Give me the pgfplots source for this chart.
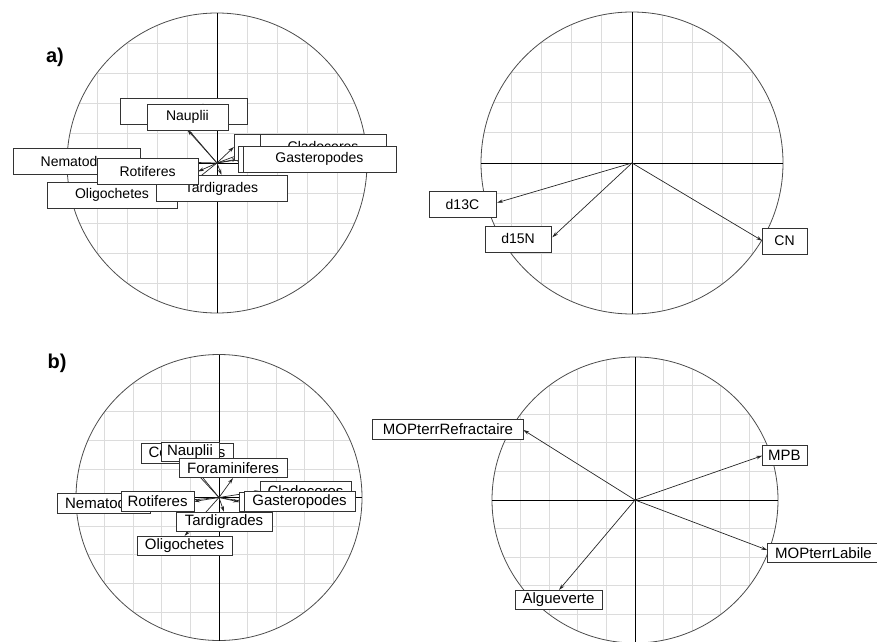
\documentclass[border=0pt]{standalone}
\usepackage{pgfplots}
\pgfplotsset{compat=1.18}
\usepackage{fontspec}
\setmainfont{Liberation Sans}
\usetikzlibrary{arrows.meta}

\definecolor{gridc}{HTML}{DCDCDC}

% correlation circle: light grid clipped to the circle, the circle, the two axes
\newcommand{\corcircle}[1]{%
  \addplot[gridc, line width=0.7pt, unbounded coords=jump] coordinates {
    (-0.8,-0.6) (-0.8,0.6) (nan,nan) (-0.6,-0.8) (-0.6,0.8) (nan,nan)
    (-0.4,-0.9165) (-0.4,0.9165) (nan,nan) (-0.2,-0.9798) (-0.2,0.9798) (nan,nan)
    (0.2,-0.9798) (0.2,0.9798) (nan,nan) (0.4,-0.9165) (0.4,0.9165) (nan,nan)
    (0.6,-0.8) (0.6,0.8) (nan,nan) (0.8,-0.6) (0.8,0.6) (nan,nan)
    (-0.6,-0.8) (0.6,-0.8) (nan,nan) (-0.8,-0.6) (0.8,-0.6) (nan,nan)
    (-0.9165,-0.4) (0.9165,-0.4) (nan,nan) (-0.9798,-0.2) (0.9798,-0.2) (nan,nan)
    (-0.9798,0.2) (0.9798,0.2) (nan,nan) (-0.9165,0.4) (0.9165,0.4) (nan,nan)
    (-0.8,0.6) (0.8,0.6) (nan,nan) (-0.6,0.8) (0.6,0.8)};
  \draw[black!70, line width=0.8pt] (axis cs:0,0) circle[radius=#1pt];
  \addplot[black, line width=0.7pt] coordinates {(-1,0) (1,0)};
  \addplot[black, line width=0.7pt] coordinates {(0,-1) (0,1)};
}

\pgfplotsset{
  panel/.style={anchor=center, scale only axis, hide axis, clip=false,
    xmin=-1, xmax=1, ymin=-1, ymax=1},
  arr/.style={black!85, line width=0.7pt, -{Stealth[length=6pt,width=3.5pt]},
    quiver={u=\thisrow{u}, v=\thisrow{v}}},
}
\tikzset{
  lbl/.style={draw=black!80, fill=white, line width=0.8pt, inner sep=0pt,
    anchor=center, text=black},
  la/.style={lbl, minimum height=26pt, font=\fontsize{14}{14}\selectfont},
  lb/.style={lbl, minimum height=19.5pt, font=\fontsize{15}{15}\selectfont},
}

\begin{document}
\begin{tikzpicture}
\useasboundingbox (0,0) rectangle (877pt,641pt);
\clip (0,0) rectangle (877pt,641pt);

% ---------- a) left : taxa ----------
\begin{axis}[panel, at={(217pt,478pt)}, width=300pt, height=300pt]
\corcircle{150}
\addplot[arr] table {
x y u v
0 0 -0.223 0.26
0 0 -0.197 0.22
0 0 0.113 0.107
0 0 0.287 0.107
0 0 0.14 0.027
0 0 0.173 0.027
0 0 -0.513 0.013
0 0 -0.267 -0.213
0 0 0.03 -0.08
0 0 -0.127 -0.057
};
\node[la, minimum width=127pt] at (axis cs:-0.223,0.347) {Copepodes};
\node[la, minimum width=81pt] at (axis cs:-0.197,0.307) {Nauplii};
\node[la, minimum width=126pt] at (axis cs:0.533,0.107) {};
\node[la, minimum width=126pt] at (axis cs:0.707,0.107) {Cladoceres};
\node[la, minimum width=142pt] at (axis cs:0.613,0.027) {};
\node[la, minimum width=153pt] at (axis cs:0.683,0.027) {Gasteropodes};
\node[la, minimum width=127pt] at (axis cs:-0.937,0.013) {Nematodes};
\node[la, minimum width=130pt] at (axis cs:-0.70,-0.213) {Oligochetes};
\node[la, minimum width=131pt] at (axis cs:0.03,-0.17) {Tardigrades};
\node[la, minimum width=101pt] at (axis cs:-0.463,-0.057) {Rotiferes};
\end{axis}

% ---------- a) right : isotopes ----------
\begin{axis}[panel, at={(632pt,478pt)}, width=302pt, height=302pt]
\corcircle{151}
\addplot[arr] table {
x y u v
0 0 -0.894 -0.263
0 0 -0.528 -0.492
0 0 0.863 -0.515
};
\node[la, minimum width=67pt] at (axis cs:-1.123,-0.275) {d13C};
\node[la, minimum width=66pt] at (axis cs:-0.755,-0.503) {d15N};
\node[la, minimum width=45pt] at (axis cs:1.01,-0.517) {CN};
\end{axis}

% ---------- b) left : taxa ----------
\begin{axis}[panel, at={(219pt,143.5pt)}, width=286pt, height=286pt]
\corcircle{143}
\addplot[arr] table {
x y u v
0 0 -0.224 0.241
0 0 -0.203 0.248
0 0 0.098 0.136
0 0 0.287 0.045
0 0 0.14 -0.031
0 0 0.175 -0.028
0 0 -0.483 -0.042
0 0 -0.175 -0.028
0 0 0.035 -0.101
0 0 -0.241 -0.269
};
\node[lb, minimum width=92pt] at (axis cs:-0.224,0.308) {Copepodes};
\node[lb, minimum width=58pt] at (axis cs:-0.203,0.318) {Nauplii};
\node[lb, minimum width=108pt] at (axis cs:0.098,0.206) {Foraminiferes};
\node[lb, minimum width=91pt] at (axis cs:0.605,0.045) {Cladoceres};
\node[lb, minimum width=71pt] at (axis cs:0.388,-0.031) {};
\node[lb, minimum width=111pt] at (axis cs:0.563,-0.028) {Gasteropodes};
\node[lb, minimum width=93pt] at (axis cs:-0.808,-0.042) {Nematodes};
\node[lb, minimum width=73pt] at (axis cs:-0.43,-0.028) {Rotiferes};
\node[lb, minimum width=96pt] at (axis cs:0.035,-0.171) {Tardigrades};
\node[lb, minimum width=95pt] at (axis cs:-0.241,-0.339) {Oligochetes};
\end{axis}

% ---------- b) right : organic matter sources ----------
\begin{axis}[panel, at={(635pt,141pt)}, width=286pt, height=286pt]
\corcircle{143}
\addplot[arr] table {
x y u v
0 0 -0.781 0.49
0 0 0.890 0.310
0 0 0.925 -0.35
0 0 -0.531 -0.629
};
\node[lb, minimum width=151pt] at (axis cs:-1.308,0.493) {MOPterrRefractaire};
\node[lb, minimum width=45pt] at (axis cs:1.045,0.311) {MPB};
\node[lb, minimum width=113pt] at (axis cs:1.318,-0.369) {MOPterrLabile};
\node[lb, minimum width=87pt] at (axis cs:-0.535,-0.699) {Algueverte};
\end{axis}

\node[font=\bfseries\fontsize{20}{20}\selectfont] at (55pt,583.5pt) {a)};
\node[font=\bfseries\fontsize{20}{20}\selectfont] at (57pt,278pt) {b)};
\end{tikzpicture}
\end{document}
